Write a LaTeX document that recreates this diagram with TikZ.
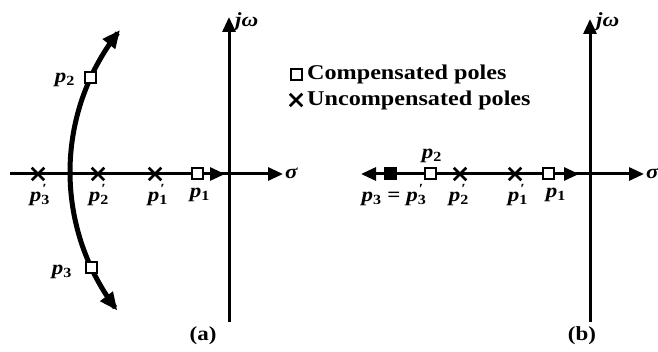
\documentclass[tikz,border=0pt]{standalone}
\usepackage{fontspec}
\setmainfont{Liberation Serif}[FakeStretch=1.15]
\usetikzlibrary{arrows.meta,shapes.misc}
\newcommand{\pk}[1]{\textit{p}\textsubscript{#1}}
\newcommand{\pq}[1]{\textit{p}\rlap{\textsuperscript{\kern1pt′}}\textsubscript{#1}}
\begin{document}
\begin{tikzpicture}[x=1pt,y=-1pt,
  font=\fontsize{20}{23}\selectfont\bfseries,
  tip/.tip={Triangle[length=15pt,width=13pt]},
  ax/.style={line width=3pt,-tip},
  locus/.style={line width=5pt,{Triangle[length=18pt,width=15pt]}-{Triangle[length=18pt,width=15pt]}},
  sq/.style={draw,line width=2pt,fill=white,minimum size=11pt,inner sep=0pt},
  fsq/.style={draw,line width=2pt,fill=black,minimum size=11pt,inner sep=0pt},
  xx/.style={cross out,draw,line width=2.5pt,minimum size=10pt,inner sep=0pt},
  lab/.style={inner sep=1pt},
  leg/.style={inner sep=1pt,anchor=west,font=\fontsize{21}{24}\selectfont\bfseries}]
\useasboundingbox (0,0) rectangle (658,352);
% ---------- panel (a) ----------
\coordinate (aL) at (10,174);
\coordinate (aR) at (283,174);
\coordinate (aB) at (229,322);
\coordinate (aT) at (229,17);
\coordinate (a1t) at (225,174);
\draw[ax] (aL) -- (aR);
\draw[ax] (aB) -- (aT);
\draw[locus] plot[domain=142.3:218.8,samples=80] ({296.6+226.6*cos(\x)},{172+226.6*sin(\x)});
\node[xx] (a3x) at (38,174) {};
\node[xx] (a2x) at (98,174) {};
\node[xx] (a1x) at (155,174) {};
\node[sq] (a1) at (197,174) {};
\draw[ax] (a1) -- (a1t);
\node[sq] (a2) at (90,78) {};
\node[sq] (a3) at (91,268) {};
\node[lab] (la3x) at (40,195) {\pq{3}};
\node[lab] (la2x) at (99,195) {\pq{2}};
\node[lab] (la1x) at (158,195) {\pq{1}};
\node[lab] (la1) at (200,195) {\pk{1}};
\node[lab] (la2) at (65,80) {\pk{2}};
\node[lab] (la3) at (62,272) {\pk{3}};
\node[lab,anchor=west] (asig) at (284,173) {\textit{σ}};
\node[lab,anchor=west] (ajw) at (234,22) {\textit{jω}};
\node[lab] (acap) at (203,336) {(a)};
% ---------- legend ----------
\node[sq] (lgs) at (296,75) {};
\node[xx] (lgx) at (296,100) {};
\node[leg] (lgst) at (306,74) {Compensated poles};
\node[leg] (lgxt) at (306,100) {Uncompensated poles};
% ---------- panel (b) ----------
\coordinate (bL) at (361,174);
\coordinate (bR) at (644,174);
\coordinate (bB) at (590,322);
\coordinate (bT) at (590,19);
\coordinate (b3c) at (390,174);
\coordinate (b1t) at (579,174);
\draw[ax] (b3c) -- (bL);
\draw[ax] (b3c) -- (bR);
\draw[ax] (bB) -- (bT);
\node[fsq] (b3) at (390,174) {};
\node[sq] (b2) at (430,174) {};
\node[xx] (b2x) at (460,174) {};
\node[xx] (b1x) at (515,174) {};
\node[sq] (b1) at (548,174) {};
\draw[ax] (b1) -- (b1t);
\node[lab] (lb2) at (432,156) {\pk{2}};
\node[lab] (lb3) at (394,195) {\pk{3} = \pq{3}};
\node[lab] (lb2x) at (459,195) {\pq{2}};
\node[lab] (lb1x) at (518,195) {\pq{1}};
\node[lab] (lb1) at (556,195) {\pk{1}};
\node[lab,anchor=west] (bsig) at (645,173) {\textit{σ}};
\node[lab,anchor=west] (bjw) at (595,22) {\textit{jω}};
\node[lab] (bcap) at (582,336) {(b)};
\end{tikzpicture}
\end{document}
